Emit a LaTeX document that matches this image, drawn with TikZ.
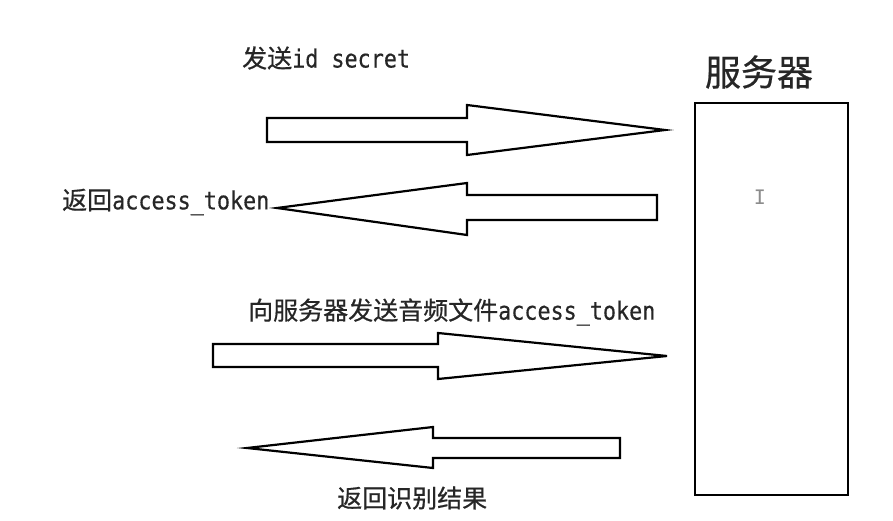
\documentclass[tikz,border=0pt]{standalone}
\usepackage{fontspec}
\newfontfamily\cjk[FakeBold=0.6]{Noto Sans CJK SC}
\newfontfamily\cjktitle[FakeBold=0.6]{Noto Sans CJK SC}
\newfontfamily\lat[FakeStretch=0.87,FakeBold=0.4]{DejaVu Sans Mono}
\newfontfamily\latplain{DejaVu Sans Mono}
\begin{document}
\begin{tikzpicture}[x=1pt,y=-1pt,
  blockarrow/.style={draw=black,line width=2.2pt,line join=miter,fill=white},
  lbl/.style={inner sep=0pt,anchor=west,text=black!85,font=\cjk\fontsize{25}{28}\selectfont},
  ibeam/.style={inner sep=0pt,text=black!45,font=\latplain\fontsize{20}{24}\selectfont},
  serverbox/.style={draw=black,line width=2.2pt,inner sep=0pt,minimum width=153pt,minimum height=392pt}]
\useasboundingbox[fill=white] (0,0) rectangle (893,521);

% server
\node[serverbox] (srv) at (771.5,299) {};
\node[inner sep=0pt,text=black!85,font=\cjktitle\fontsize{36}{40}\selectfont] (title) at (759,72) {服务器};
\node[ibeam] (cursor) at (760,197) {I};

% arrow 1: right
\coordinate (a1tip) at (665,130);
\draw[blockarrow] (267,118) -- (467,118) -- (467,105) -- (a1tip) -- (467,155) -- (467,142) -- (267,142) -- cycle;
\node[lbl] (t1) at (242,58) {发送{\lat id secret}};

% arrow 2: left
\coordinate (a2tip) at (277,208);
\draw[blockarrow] (657,195) -- (467,195) -- (467,183) -- (a2tip) -- (467,235) -- (467,220) -- (657,220) -- cycle;
\node[lbl] (t2) at (62,202) {返回{\lat access\_token}};

% arrow 3: right
\coordinate (a3tip) at (667,356);
\draw[blockarrow] (213,344) -- (438,344) -- (438,333) -- (a3tip) -- (438,379) -- (438,367) -- (213,367) -- cycle;
\node[lbl] (t3) at (248,312) {向服务器发送音频文件{\lat access\_token}};

% arrow 4: left
\coordinate (a4tip) at (247,448);
\draw[blockarrow] (620,438) -- (433,438) -- (433,427) -- (a4tip) -- (433,468) -- (433,458) -- (620,458) -- cycle;
\node[lbl] (t4) at (337,498) {返回识别结果};
\end{tikzpicture}
\end{document}
